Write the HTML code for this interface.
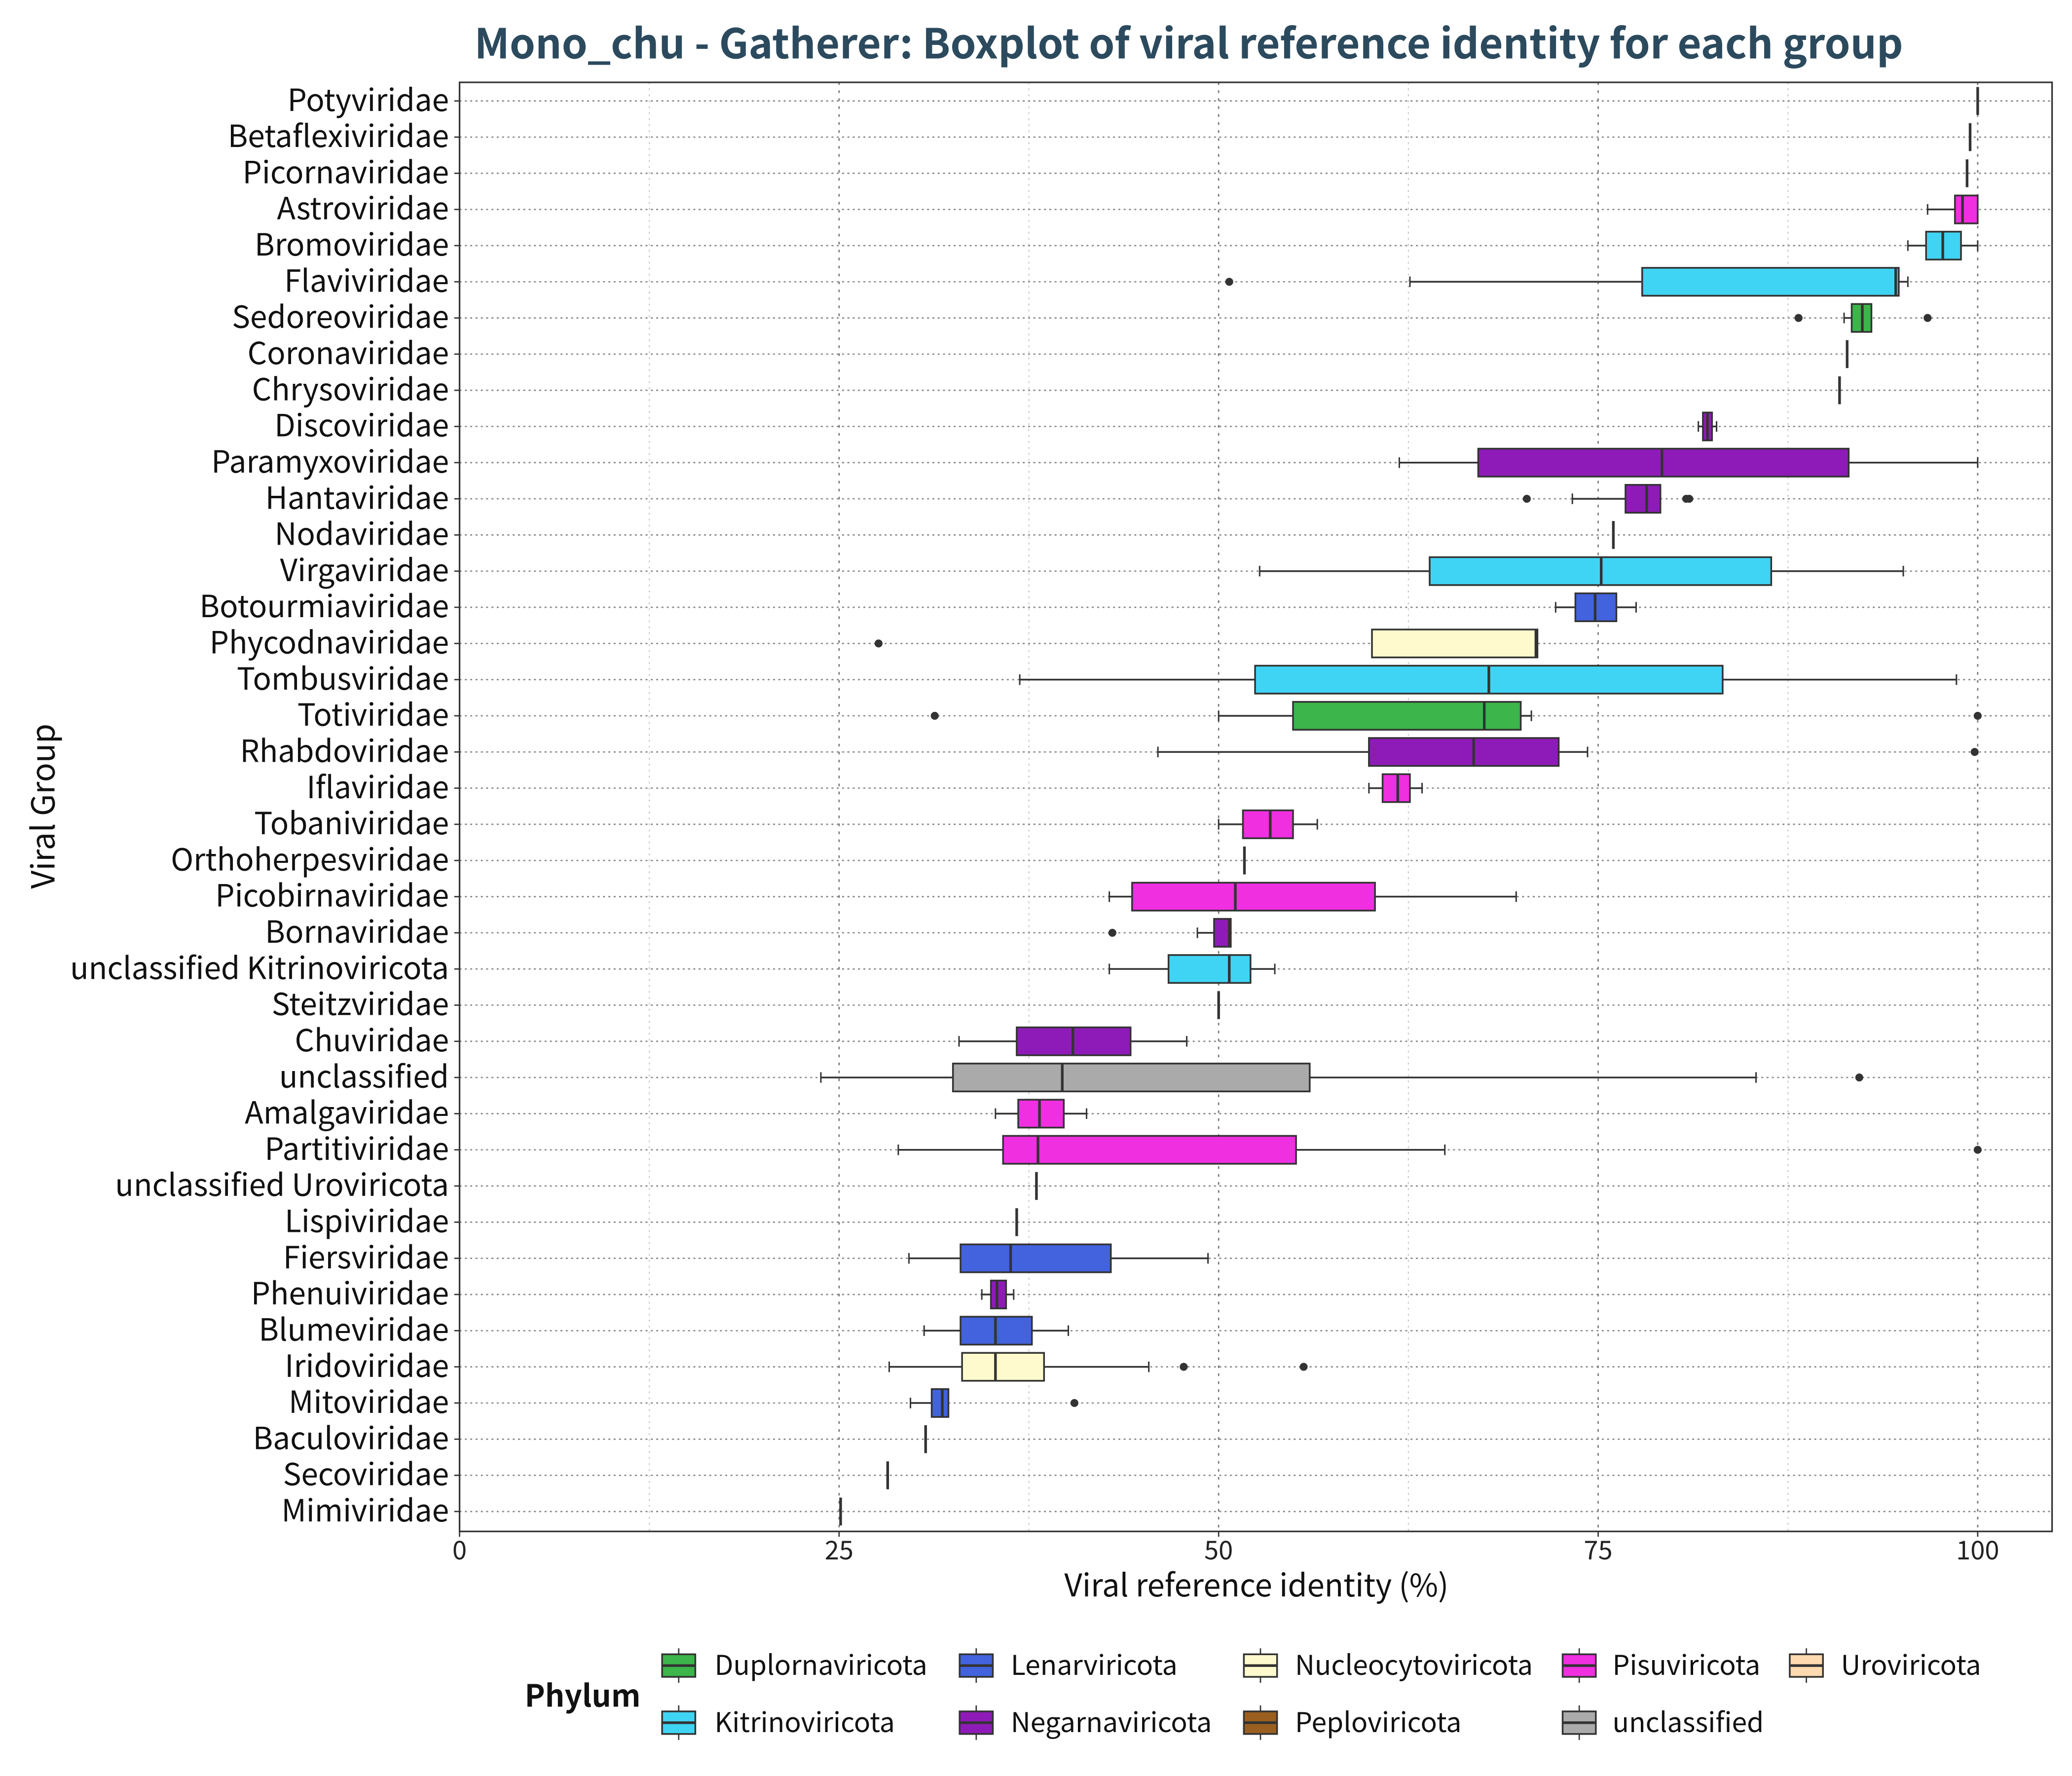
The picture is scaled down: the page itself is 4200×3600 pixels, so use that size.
<!DOCTYPE html>
<html><head><meta charset="utf-8">
<style>
html,body{margin:0;padding:0;background:#fff;}
svg{display:block;font-family:"Noto Sans CJK JP","DejaVu Sans",sans-serif;}
</style></head>
<body>
<svg id="chart" width="4200" height="3600" viewBox="0 0 1560 1337.14" preserveAspectRatio="none" xmlns="http://www.w3.org/2000/svg">
<rect x="0" y="0" width="1560" height="1337.14" fill="#fff"/>
<text x="895" y="44" text-anchor="middle" font-size="31" font-weight="bold" fill="#2c4a5e">Mono_chu - Gatherer: Boxplot of viral reference identity for each group</text>
<g id="grid"></g>
<g id="marks"></g>
<rect x="346" y="62" width="1199" height="1091" fill="none" stroke="#333" stroke-width="1.2"/>
<g id="axes"></g>
<text x="946" y="1202" text-anchor="middle" font-size="23.5" fill="#111">Viral reference identity (%)</text>
<text transform="translate(41,607) rotate(-90)" text-anchor="middle" font-size="24" fill="#111">Viral Group</text>
<g id="legend"></g>
</svg>
<script>
const categories = ["Potyviridae","Betaflexiviridae","Picornaviridae","Astroviridae","Bromoviridae","Flaviviridae","Sedoreoviridae","Coronaviridae","Chrysoviridae","Discoviridae","Paramyxoviridae","Hantaviridae","Nodaviridae","Virgaviridae","Botourmiaviridae","Phycodnaviridae","Tombusviridae","Totiviridae","Rhabdoviridae","Iflaviridae","Tobaniviridae","Orthoherpesviridae","Picobirnaviridae","Bornaviridae","unclassified Kitrinoviricota","Steitzviridae","Chuviridae","unclassified","Amalgaviridae","Partitiviridae","unclassified Uroviricota","Lispiviridae","Fiersviridae","Phenuiviridae","Blumeviridae","Iridoviridae","Mitoviridae","Baculoviridae","Secoviridae","Mimiviridae"];
const q1Values  = [100,99.5,99.3,98.5,96.6,77.9,91.7,91.4,90.9,81.9,67.1,76.8,76.0,63.9,73.5,60.1,52.4,54.9,59.9,60.8,51.6,51.7,44.3,49.7,46.7,50.0,36.7,32.5,36.8,35.8,38.0,36.7,33.0,35.0,33.0,33.1,31.1,30.7,28.2,25.1];
const medValues = [100,99.5,99.3,99.0,97.7,94.6,92.4,91.4,90.9,82.2,79.2,78.2,76.0,75.2,74.8,70.9,67.8,67.5,66.8,61.8,53.4,51.7,51.1,50.7,50.7,50.0,40.4,39.7,38.2,38.1,38.0,36.7,36.3,35.4,35.3,35.3,31.8,30.7,28.2,25.1];
const q3Values  = [100,99.5,99.3,100,98.9,94.8,93.0,91.4,90.9,82.5,91.5,79.1,76.0,86.4,76.2,71.0,83.2,69.9,72.4,62.6,54.9,51.7,60.3,50.8,52.1,50.0,44.2,56.0,39.8,55.1,38.0,36.7,42.9,36.0,37.7,38.5,32.2,30.7,28.2,25.1];
const loValues  = [100,99.5,99.3,96.7,95.4,62.6,91.2,91.4,90.9,81.6,61.9,73.3,76.0,52.7,72.2,60.1,36.9,50.0,46.0,59.9,50.0,51.7,42.8,48.6,42.8,50.0,32.9,23.8,35.3,28.9,38.0,36.7,29.6,34.4,30.6,28.3,29.7,30.7,28.2,25.1];
const hiValues  = [100,99.5,99.3,100,100,95.4,93.0,91.4,90.9,82.8,100,79.1,76.0,95.1,77.5,71.0,98.6,70.6,74.3,63.4,56.5,51.7,69.6,50.8,53.7,50.0,47.9,85.4,41.3,64.9,38.0,36.7,49.3,36.5,40.1,45.4,32.2,30.7,28.2,25.1];
const outliers  = [[],[],[],[],[],[50.7],[88.2,96.7],[],[],[],[],[70.3,80.8,81.0],[],[],[],[27.6],[],[31.3,100],[99.8],[],[],[],[],[43.0],[],[],[],[92.2],[],[100],[],[],[],[],[],[47.7,55.6],[40.5],[],[],[]];
const phyla     = ["Pisu","Kitrino","Pisu","Pisu","Kitrino","Kitrino","Duplorna","Negarna","Duplorna","Negarna","Negarna","Negarna","Pisu","Kitrino","Lenar","Nucleo","Kitrino","Duplorna","Negarna","Pisu","Pisu","Nucleo","Pisu","Negarna","Kitrino","Lenar","Negarna","unclassified","Pisu","Pisu","Urovir","Urovir","Lenar","Negarna","Lenar","Nucleo","Lenar","Nucleo","Pisu","Nucleo"];
const xTicks = [0,25,50,75,100];
const xMinor = [12.5,37.5,62.5,87.5];
const legendNames = ["Duplornaviricota","Lenarviricota","Nucleocytoviricota","Pisuviricota","Uroviricota","Kitrinoviricota","Negarnaviricota","Peploviricota","unclassified"];
const legendKeys = ["Duplorna","Lenar","Nucleo","Pisu","Urovir","Kitrino","Negarna","Peplo","unclassified"];

const colors = {Duplorna:"#3cb54a",Kitrino:"#40d4f4",Lenar:"#4263dd",Negarna:"#8e1bb8",Nucleo:"#fffacd",Peplo:"#9a5f20",Pisu:"#ef2fe0",Urovir:"#ffdab0",unclassified:"#aaaaaa"};
const NS="http://www.w3.org/2000/svg";
const X0=346, X100=1489, PL=346, PR=1545, PT=62, PB=1153;
const xs = v => X0 + (X100-X0)*v/100;
const ROW0=76, ROWN=1138;
const ys = i => ROW0 + (ROWN-ROW0)*i/(categories.length-1);
function mk(tag, attrs, parent){const e=document.createElementNS(NS,tag);for(const k in attrs)e.setAttribute(k,attrs[k]);parent.appendChild(e);return e;}
const grid=document.getElementById('grid'), marks=document.getElementById('marks'), axes=document.getElementById('axes'), legend=document.getElementById('legend');

xMinor.forEach(v=>{const l=mk('line',{x1:xs(v),x2:xs(v),y1:PT,y2:PB,stroke:'#c8c8c8','stroke-width':0.8,'stroke-dasharray':'1.5,3'},grid);

});
xTicks.forEach(v=>{const l=mk('line',{x1:xs(v),x2:xs(v),y1:PT,y2:PB,stroke:'#777','stroke-width':1,'stroke-dasharray':'2,4'},grid);


const t=mk('line',{x1:xs(v),x2:xs(v),y1:PB,y2:PB+4,stroke:'#333','stroke-width':1},axes);


const tx=mk('text',{x:xs(v),y:PB+21,'text-anchor':'middle','font-size':19.5,fill:'#222'},axes);tx.textContent=v;

});

categories.forEach((c,i)=>{
  const y=ys(i);
  const gl=mk('line',{x1:PL,x2:PR,y1:y,y2:y,stroke:'#888','stroke-width':1,'stroke-dasharray':'1.5,2.5'},grid);
  
  
  const tk=mk('line',{x1:PL-4,x2:PL,y1:y,y2:y,stroke:'#333','stroke-width':1},axes);
  
  
  const lb=mk('text',{x:PL-8,y:y+7.5,'text-anchor':'end','font-size':23,fill:'#111'},axes);lb.textContent=c;
  
  

  const g=mk('g',{},marks);
  
  
  const h=10.5, cap=4;
  const col=colors[phyla[i]];
  if(loValues[i]<q1Values[i]){
    mk('line',{x1:xs(loValues[i]),x2:xs(q1Values[i]),y1:y,y2:y,stroke:'#333','stroke-width':1.3},g);
    mk('line',{x1:xs(loValues[i]),x2:xs(loValues[i]),y1:y-cap,y2:y+cap,stroke:'#333','stroke-width':1.1},g);
  }
  if(hiValues[i]>q3Values[i]){
    mk('line',{x1:xs(q3Values[i]),x2:xs(hiValues[i]),y1:y,y2:y,stroke:'#333','stroke-width':1.3},g);
    mk('line',{x1:xs(hiValues[i]),x2:xs(hiValues[i]),y1:y-cap,y2:y+cap,stroke:'#333','stroke-width':1.1},g);
  }
  const w=xs(q3Values[i])-xs(q1Values[i]);
  if(w>0.5){
    mk('rect',{x:xs(q1Values[i]),y:y-h,width:w,height:2*h,fill:col,stroke:'#333','stroke-width':1.3},g);
  }
  mk('line',{x1:xs(medValues[i]),x2:xs(medValues[i]),y1:y-h,y2:y+h,stroke:'#333','stroke-width':2},g);
  outliers[i].forEach(o=>{const p=mk('circle',{cx:xs(o),cy:y,r:3,fill:'#333'},g);
    
    });
});

const lt=mk('text',{x:395,y:1285,'font-size':23,'font-weight':'bold',fill:'#111'},legend);lt.textContent='Phylum';


const keyX=[511,735,949,1189,1360], textX=[538,761,975,1214,1386], rowY=[1254,1297];
legendNames.forEach((n,k)=>{
  const r=k<5?0:1, c=k<5?k:k-5;
  const cx=keyX[c], cy=rowY[r];
  const g=mk('g',{},legend);
  
  
  mk('line',{x1:cx,x2:cx,y1:cy-13,y2:cy+13,stroke:'#333','stroke-width':1},g);
  mk('rect',{x:cx-12.5,y:cy-8.5,width:25,height:17,fill:colors[legendKeys[k]],stroke:'#333','stroke-width':1.3},g);
  mk('line',{x1:cx-12.5,x2:cx+12.5,y1:cy,y2:cy,stroke:'#333','stroke-width':2},g);
  const t=mk('text',{x:textX[c],y:cy+7,'font-size':20.5,fill:'#111'},g);t.textContent=n;
});
</script>
</body></html>
